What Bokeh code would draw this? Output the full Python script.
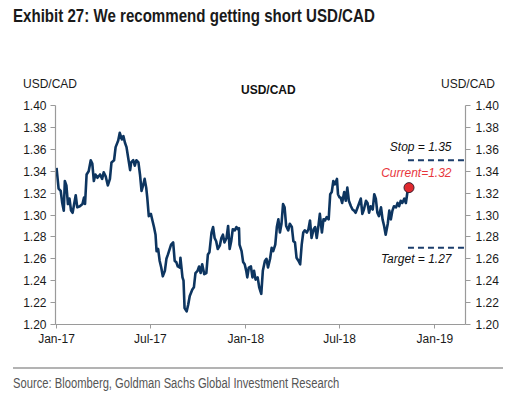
import pandas as pd
from bokeh.plotting import figure
from bokeh.layouts import column
from bokeh.models import (Range1d, LinearAxis, FixedTicker, DatetimeTickFormatter,
                          NumeralTickFormatter, Label, Div, ColumnDataSource)
from bokeh.embed import file_html
from bokeh.resources import INLINE

# ---------------- data ----------------
start_date = "2017-01-01"
# days since 2017-01-01
days = [0, 4, 8, 11, 14, 16, 19, 22, 25, 28, 31, 37, 40, 45, 50, 53, 55, 58, 62, 66,
        69, 72, 75, 79, 84, 88, 91, 95, 99, 103, 106, 111, 114, 119, 122, 126, 129, 132, 135, 138,
        142, 144, 148, 151, 154, 158, 161, 164, 167, 170, 173, 175, 178, 182, 185, 188, 191, 193, 196, 199,
        202, 205, 209, 212, 215, 219, 221, 225, 228, 231, 234, 238, 239, 243, 245, 247, 251, 254, 257, 262,
        265, 268, 272, 275, 278, 281, 285, 289, 292, 295, 299, 302, 305, 308, 311, 315, 318, 321, 324, 328,
        331, 334, 337, 340, 344, 347, 350, 352, 353, 357, 360, 363, 366, 368, 371, 375, 378, 381, 384, 388,
        391, 395, 398, 402, 405, 408, 412, 415, 418, 422, 425, 428, 431, 434, 437, 440, 443, 447, 450, 454,
        457, 460, 463, 467, 470, 473, 476, 479, 483, 486, 489, 492, 496, 499, 502, 505, 508, 512, 515, 518,
        521, 525, 528, 531, 534, 537, 541, 543, 546, 548, 551, 555, 558, 561, 564, 568, 571, 574, 577, 581,
        584, 587, 590, 593, 597, 600, 603, 606, 610, 613, 616, 619, 622, 626, 629, 632, 635, 639, 642, 645,
        648, 651, 655, 658, 661, 664, 667, 671, 674, 677, 680]
usdcad = [1.343, 1.324, 1.322, 1.311, 1.304, 1.331, 1.327, 1.310, 1.315, 1.304, 1.302, 1.318, 1.307, 1.308, 1.310, 1.316, 1.310, 1.337, 1.340, 1.350,
          1.347, 1.331, 1.337, 1.334, 1.337, 1.333, 1.339, 1.335, 1.327, 1.333, 1.348, 1.350, 1.362, 1.368, 1.375, 1.369, 1.372, 1.366, 1.362, 1.353,
          1.341, 1.348, 1.350, 1.345, 1.350, 1.348, 1.337, 1.322, 1.327, 1.333, 1.325, 1.316, 1.299, 1.301, 1.295, 1.289, 1.282, 1.267, 1.269, 1.258,
          1.252, 1.244, 1.249, 1.260, 1.264, 1.270, 1.273, 1.275, 1.258, 1.257, 1.253, 1.252, 1.261, 1.243, 1.240, 1.215, 1.212, 1.218, 1.226, 1.232,
          1.234, 1.247, 1.249, 1.253, 1.247, 1.255, 1.246, 1.247, 1.264, 1.266, 1.284, 1.289, 1.279, 1.276, 1.269, 1.272, 1.279, 1.282, 1.275, 1.279,
          1.290, 1.269, 1.276, 1.287, 1.286, 1.289, 1.287, 1.288, 1.273, 1.267, 1.257, 1.255, 1.249, 1.243, 1.252, 1.253, 1.243, 1.249, 1.241, 1.243,
          1.234, 1.228, 1.249, 1.258, 1.260, 1.252, 1.260, 1.270, 1.267, 1.273, 1.289, 1.296, 1.284, 1.292, 1.310, 1.307, 1.290, 1.286, 1.292, 1.289,
          1.276, 1.275, 1.261, 1.258, 1.255, 1.273, 1.284, 1.286, 1.284, 1.287, 1.295, 1.279, 1.287, 1.289, 1.279, 1.289, 1.301, 1.284, 1.296, 1.295,
          1.298, 1.296, 1.319, 1.321, 1.331, 1.328, 1.333, 1.319, 1.316, 1.316, 1.311, 1.321, 1.313, 1.325, 1.313, 1.308, 1.305, 1.304, 1.302, 1.307,
          1.311, 1.315, 1.301, 1.305, 1.313, 1.311, 1.302, 1.308, 1.305, 1.319, 1.315, 1.302, 1.299, 1.307, 1.296, 1.290, 1.282, 1.292, 1.304, 1.296,
          1.304, 1.308, 1.307, 1.311, 1.308, 1.313, 1.311, 1.315, 1.311, 1.321, 1.325]

tick_dates = ["2017-01-01", "2017-07-01", "2018-01-01", "2018-07-01", "2019-01-01"]
y_ticks = [1.20, 1.22, 1.24, 1.26, 1.28, 1.30, 1.32, 1.34, 1.36, 1.38, 1.40]
x_start, x_end = "2016-12-30", "2019-03-01"
level_start = "2018-11-10"
label_x = "2019-02-02"
stop_level = 1.35
target_level = 1.27

title_text = "Exhibit 27: We recommend getting short USD/CAD"
chart_title = "USD/CAD"
unit_text = "USD/CAD"
source_text = "Source: Bloomberg, Goldman Sachs Global Investment Research"

# ---------------- layout geometry (page pixels) ----------------
W = 509
TOP_H = 97            # header block height
FL, FR, FT, FB = 55, 465, 105, 324   # frame edges on the page
FIG_BOTTOM = 350
BOT_H = 395 - FIG_BOTTOM
FONT = "Liberation Sans"

# ---------------- header (HTML) ----------------
header_html = f"""
<div style="position:relative;width:{W}px;height:{TOP_H}px;font-family:'{FONT}',Arial,sans-serif;color:#1a1a1a;">
  <span style="position:absolute;left:13px;top:5px;font-size:18px;line-height:22px;font-weight:bold;
               white-space:nowrap;display:inline-block;transform:scaleX(0.838);transform-origin:0 0;">{title_text}</span>
  <span style="position:absolute;left:23px;top:77px;font-size:12px;line-height:14px;white-space:nowrap;">{unit_text}</span>
  <span style="position:absolute;left:241px;top:83px;width:48px;text-align:center;font-size:12px;line-height:14px;
               font-weight:bold;color:#111;white-space:nowrap;">{chart_title}</span>
  <span style="position:absolute;left:441px;top:77px;font-size:12px;line-height:14px;white-space:nowrap;">{unit_text}</span>
</div>"""
header = Div(text=header_html, width=W, height=TOP_H, margin=0)

footer_html = f"""
<div style="position:relative;width:{W}px;height:{BOT_H}px;font-family:'{FONT}',Arial,sans-serif;">
  <div style="position:absolute;left:13px;top:{367 - FIG_BOTTOM}px;width:490px;height:2px;background:#b3b3b3;"></div>
  <span style="position:absolute;left:13px;top:{375 - FIG_BOTTOM}px;font-size:14px;line-height:16px;color:#555;
               white-space:nowrap;display:inline-block;transform:scaleX(0.8);transform-origin:0 0;">{source_text}</span>
</div>"""
footer = Div(text=footer_html, width=W, height=BOT_H, margin=0)

# ---------------- chart ----------------
base = pd.Timestamp(start_date)
dates = [base + pd.Timedelta(days=d) for d in days]
src = ColumnDataSource(dict(date=dates, value=usdcad))
ms = lambda s: pd.Timestamp(s).value / 1e6

p = figure(width=W, height=FIG_BOTTOM - TOP_H, x_axis_type="datetime", output_backend="svg",
           toolbar_location=None, margin=0,
           x_range=Range1d(pd.Timestamp(x_start), pd.Timestamp(x_end)),
           y_range=Range1d(1.20, 1.40),
           min_border_left=FL, min_border_right=W - FR, min_border_top=FT - TOP_H,
           min_border_bottom=FIG_BOTTOM - FB)
p.outline_line_color = None
p.xgrid.visible = False
p.ygrid.visible = False
p.background_fill_color = "white"
p.border_fill_color = "white"

AXIS_COL = "#9a9a9a"

def style_axis(ax):
    ax.axis_line_color = AXIS_COL
    ax.axis_line_width = 1.2
    ax.major_tick_line_color = AXIS_COL
    ax.major_tick_in = 0
    ax.major_tick_out = 5
    ax.minor_tick_line_color = None
    ax.major_label_text_font = FONT
    ax.major_label_text_font_size = "12px"
    ax.major_label_text_color = "#1a1a1a"

yax = p.yaxis[0]
yax.ticker = FixedTicker(ticks=y_ticks)
yax.formatter = NumeralTickFormatter(format="0.00")
style_axis(yax)
yax.major_label_standoff = 4

rax = LinearAxis(ticker=FixedTicker(ticks=y_ticks), formatter=NumeralTickFormatter(format="0.00"))
style_axis(rax)
rax.major_label_standoff = 5
p.add_layout(rax, "right")

xax = p.xaxis[0]
xax.ticker = FixedTicker(ticks=[ms(d) for d in tick_dates])
xax.formatter = DatetimeTickFormatter(months="%b-%y", days="%b-%y", years="%b-%y")
style_axis(xax)
xax.major_tick_out = 4
xax.major_label_standoff = 3

LINE_COL = "#0d3560"
p.line("date", "value", source=src, line_color=LINE_COL, line_width=2.6, line_join="round")

# stop / target dashed levels
for lvl in (stop_level, target_level):
    p.line([pd.Timestamp(level_start), pd.Timestamp(x_end)], [lvl, lvl],
           line_color="#1b3d6b", line_width=2, line_dash="6 4")

# current point
p.scatter([dates[-1]], [usdcad[-1]], size=10, fill_color="#e0292e",
          line_color="#3a2030", line_width=1)

lab_font = dict(text_font=FONT, text_font_size="12px", text_font_style="italic",
                text_align="right", text_baseline="middle")
p.add_layout(Label(x=ms(label_x), y=stop_level, y_offset=13,
                   text=f"Stop = {stop_level:.2f}", text_color="#111111", **lab_font))
p.add_layout(Label(x=ms(label_x), y=usdcad[-1], y_offset=14.5,
                   text=f"Current={usdcad[-1]:.2f}", text_color="#e8363c", **lab_font))
p.add_layout(Label(x=ms(label_x), y=target_level, y_offset=-11.5,
                   text=f"Target = {target_level:.2f}", text_color="#111111", **lab_font))

layout = column(header, p, footer, spacing=0, margin=0)

out = file_html(layout, INLINE)
open("out.html", "w").write(out)
